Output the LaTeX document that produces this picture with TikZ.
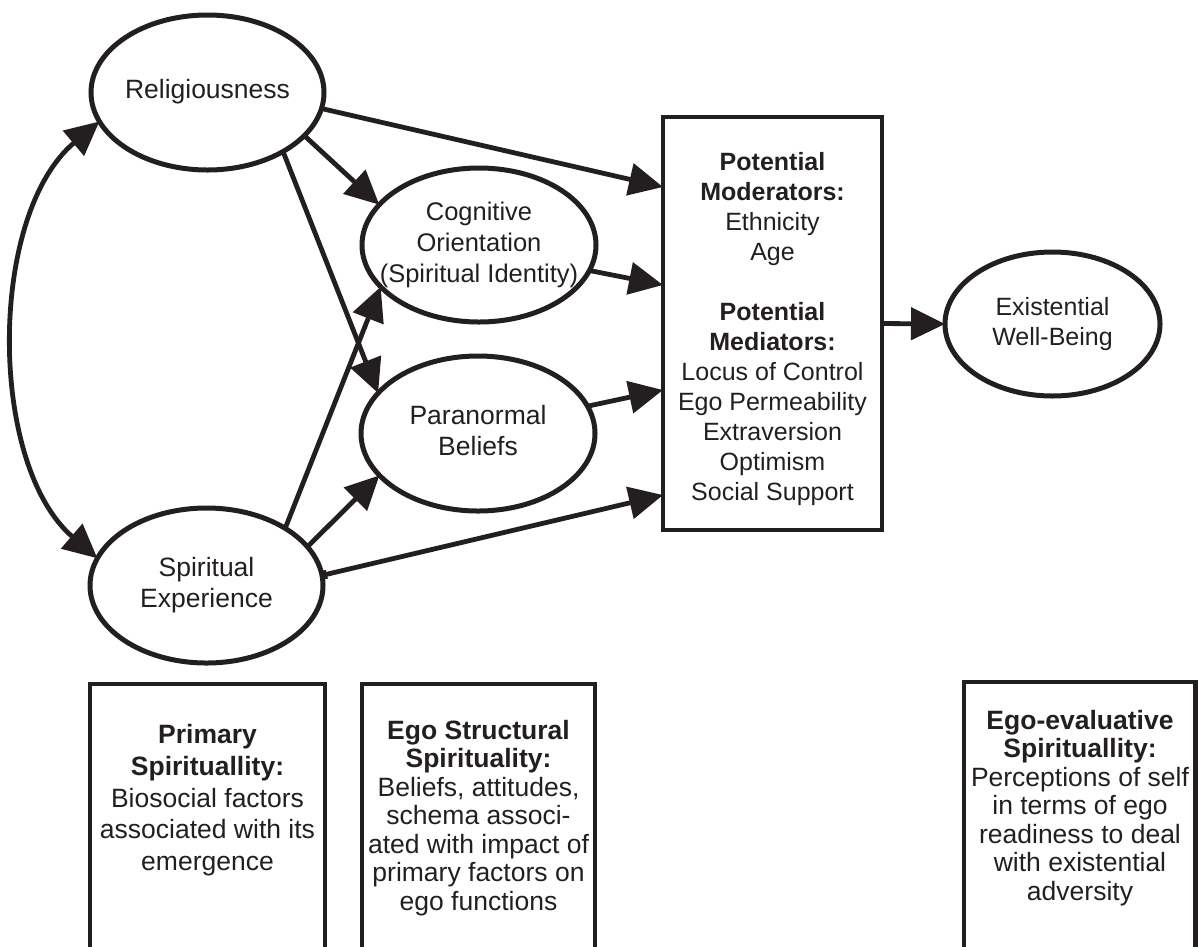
\documentclass[tikz,border=0pt]{standalone}
\usepackage{fontspec}
\setmainfont{Liberation Sans}
\usetikzlibrary{arrows.meta,shapes.geometric,calc}
\definecolor{ink}{HTML}{231F20}
\newcommand{\ctext}[1]{\makebox[0pt]{\begin{tabular}{@{}c@{}}#1\end{tabular}}}
\begin{document}
\begin{tikzpicture}[x=1pt,y=-1pt,
  oval/.style={ellipse, draw=ink, line width=5pt, inner sep=0pt, outer sep=0pt,
    text=ink, font=\fontsize{26.5}{31}\selectfont},
  medbox/.style={rectangle, draw=ink, line width=4.8pt, inner sep=0pt, outer sep=0pt,
    text=ink, font=\fontsize{25}{30}\selectfont},
  frame/.style={draw=ink, line width=4.8pt, line join=miter},
  btext/.style={anchor=north, inner sep=0pt, text=ink, font=\fontsize{26.5}{28.5}\selectfont},
  conn/.style={draw=ink, line width=4.8pt, -{Triangle[length=34pt,width=32pt]}},
  ]
\useasboundingbox (0,0) rectangle (1198,946);

% ellipses
\node[oval, minimum width=233pt, minimum height=155pt] (rel) at (207.5,92.5) {\ctext{Religiousness}};
\node[oval, minimum width=234pt, minimum height=154pt, font=\fontsize{25.5}{31}\selectfont] (cog) at (479,245) {\ctext{Cognitive\\Orientation\\(Spiritual Identity)}};
\node[oval, minimum width=234pt, minimum height=155pt] (par) at (478,433.5) {\ctext{Paranormal\\Beliefs}};
\node[oval, minimum width=233pt, minimum height=155pt] (spe) at (206.5,585.5) {\ctext{Spiritual\\Experience}};
\node[oval, minimum width=215pt, minimum height=144pt, font=\fontsize{25}{30}\selectfont] (exi) at (1052.5,324) {\ctext{Existential\\Well-Being}};

% mediator box
\node[medbox, minimum width=219pt, minimum height=413pt] (box) at (772.5,323.5)
  {\begin{tabular}{@{}c@{}}\noalign{\vskip12pt}\textbf{Potential}\\\textbf{Moderators:}\\Ethnicity\\Age\\ \\
   \textbf{Potential}\\\textbf{Mediators:}\\Locus of Control\\Ego Permeability\\Extraversion\\Optimism\\Social Support\end{tabular}};

% targets on the box's left side
\coordinate (t1) at ($(box.west)+(0,-136.5)$);
\coordinate (t2) at ($(box.west)+(0,-38.5)$);
\coordinate (t3) at ($(box.west)+(0,66.5)$);
\coordinate (t4) at ($(box.west)+(0,171.5)$);

% connectors
\draw[draw=ink, line width=4.8pt, {Triangle[length=34pt,width=32pt]}-{Triangle[length=34pt,width=32pt]}]
  (rel.195) .. controls (-12,215) and (-12,464) .. (spe.166);
\draw[conn] (rel.-8) -- (t1);
\draw[conn] (rel.-24) -- (cog.158);
\draw[conn] (rel.-38) -- (par.158);
\draw[conn] (spe.36) -- (cog.203);
\draw[conn] (spe.21) -- (par.203);
\draw[conn] (cog.-13) -- (t2);
\draw[conn] (par.14) -- (t3);
\draw[draw=ink, line width=4.8pt, {Rectangle[length=5pt,width=9pt]}-{Triangle[length=34pt,width=32pt]}] (spe.5) -- (t4);
\draw[conn] (box.east) -- (exi.west);

% bottom boxes (open at the lower edge)
\draw[frame] (90,960) -- (90,684) -- (325,684) -- (325,960);
\draw[frame] (362,960) -- (362,684) -- (595,684) -- (595,960);
\draw[frame] (964,960) -- (964,682) -- (1195.5,682) -- (1195.5,960);

\node[btext, font=\fontsize{26.5}{31.8}\selectfont] (b1) at (207.5,721) {\begin{tabular}{@{}c@{}}\textbf{Primary}\\\textbf{Spirituallity:}\\Biosocial factors\\associated with its\\emergence\end{tabular}};
\node[btext] (b2) at (478.5,719) {\begin{tabular}{@{}c@{}}\textbf{Ego Structural}\\\textbf{Spirituality:}\\Beliefs, attitudes,\\schema associ-\\ated with impact of\\primary factors on\\ego functions\end{tabular}};
\node[btext] (b3) at (1080,709) {\begin{tabular}{@{}c@{}}\textbf{Ego-evaluative}\\\textbf{Spirituallity:}\\Perceptions of self\\in terms of ego\\readiness to deal\\with existential\\adversity\end{tabular}};
\end{tikzpicture}
\end{document}
